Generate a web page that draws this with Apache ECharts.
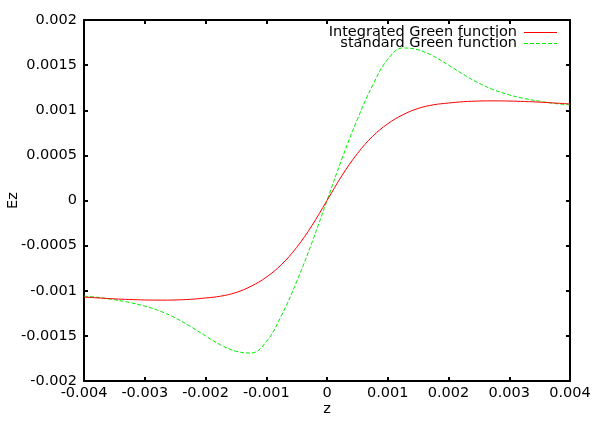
<!DOCTYPE html>
<html><head><meta charset="utf-8">
<script src="https://cdn.jsdelivr.net/npm/echarts@6/dist/echarts.min.js"></script>
<style>html,body{margin:0;padding:0;background:#fff}#c{width:604px;height:433px}</style>
</head><body><div id="c"></div>
<script>
var zValues = [-0.004,-0.00375,-0.0035,-0.00325,-0.003,-0.00275,-0.0025,-0.00225,-0.002,-0.00175,-0.0015,-0.00125,-0.001,-0.00075,-0.0005,-0.00025,0,
  0.00025,0.0005,0.00075,0.001,0.00125,0.0015,0.00175,0.002,0.00225,0.0025,0.00275,0.003,0.00325,0.0035,0.00375,0.004];
var integratedEz = [-0.00107,-0.00108,-0.00109,-0.001097,-0.001102,-0.001104,-0.001102,-0.001095,-0.00108,-0.00106,-0.00102,-0.00095,-0.00085,-0.00071,-0.00052,-0.00028,0,
  0.00028,0.00052,0.00071,0.00085,0.00095,0.00102,0.00106,0.00108,0.001095,0.001102,0.001104,0.001102,0.001097,0.00109,0.00108,0.00107];
var standardEz = [-0.00106,-0.001075,-0.0011,-0.00113,-0.00117,-0.001225,-0.0013,-0.001395,-0.0015,-0.0016,-0.00167,-0.00169,-0.001565,-0.001275,-0.0009,-0.00047,0,
  0.00047,0.0009,0.001275,0.001565,0.00169,0.00167,0.0016,0.0015,0.001395,0.0013,0.001225,0.00117,0.00113,0.0011,0.001075,0.00106];
var seriesNames = ['Integrated Green function','standard Green function'];
var xTitle = 'z', yTitle = 'Ez';

var FONT = 'DejaVu Sans';
var RED = '#ff0000', GREEN = '#00ee00';
function pairs(ys){ return zValues.map(function(z,i){ return [z, ys[i]]; }); }
var axisLine = {show:true, onZero:false, lineStyle:{color:'#000', width:2}};
var tick = {show:true, inside:true, length:4, lineStyle:{color:'#000', width:2}};
var lbl = {color:'#000', fontFamily:FONT, fontSize:14.5};

var chart = echarts.init(document.getElementById('c'), null, {renderer:'canvas'});
chart.setOption({
  animation:false,
  backgroundColor:'#fff',
  grid:{left:84, right:34, top:20, bottom:52, containLabel:false, outerBoundsMode:'none'},
  xAxis:[
    {type:'value', min:-0.004, max:0.004, interval:0.001, position:'bottom',
     axisLine:axisLine, axisTick:tick, splitLine:{show:false},
     axisLabel:Object.assign({margin:5}, lbl),
     name:xTitle, nameLocation:'middle', nameGap:28, nameMoveOverlap:false,
     nameTextStyle:{color:'#000', fontFamily:FONT, fontSize:14.5, verticalAlign:'middle'}},
    {type:'value', min:-0.004, max:0.004, interval:0.001, position:'top',
     axisLine:axisLine, axisTick:tick, splitLine:{show:false}, axisLabel:{show:false}}
  ],
  yAxis:[
    {type:'value', min:-0.002, max:0.002, interval:0.0005, position:'left',
     axisLine:axisLine, axisTick:tick, splitLine:{show:false},
     axisLabel:Object.assign({margin:7}, lbl),
     name:yTitle, nameLocation:'middle', nameRotate:90, nameGap:71, nameMoveOverlap:false,
     nameTextStyle:{color:'#000', fontFamily:FONT, fontSize:14.5, verticalAlign:'middle'}},
    {type:'value', min:-0.002, max:0.002, interval:0.0005, position:'right',
     axisLine:axisLine, axisTick:tick, splitLine:{show:false}, axisLabel:{show:false}}
  ],
  graphic:[
    {type:'text', x:517, y:32, z:10, style:{text:seriesNames[0], fill:'#000', font:'14.5px "'+FONT+'"', textAlign:'right', textVerticalAlign:'middle'}},
    {type:'line', x:0, y:0, z:10, shape:{x1:524, y1:32.5, x2:557, y2:32.5}, style:{stroke:RED, lineWidth:1}},
    {type:'text', x:517, y:43, z:10, style:{text:seriesNames[1], fill:'#000', font:'14.5px "'+FONT+'"', textAlign:'right', textVerticalAlign:'middle'}},
    {type:'line', x:0, y:0, z:10, shape:{x1:524, y1:43.5, x2:557, y2:43.5}, style:{stroke:GREEN, lineWidth:1, lineDash:[4,2]}}
  ],
  series:[
    {name:seriesNames[0], type:'line', data:pairs(integratedEz), smooth:0.4, symbol:'none',
     lineStyle:{color:RED, width:1}, itemStyle:{color:RED}, z:3},
    {name:seriesNames[1], type:'line', data:pairs(standardEz), smooth:0.4, symbol:'none',
     lineStyle:{color:GREEN, width:1, type:[4,2]}, itemStyle:{color:GREEN}, z:2}
  ]
});
</script></body></html>
